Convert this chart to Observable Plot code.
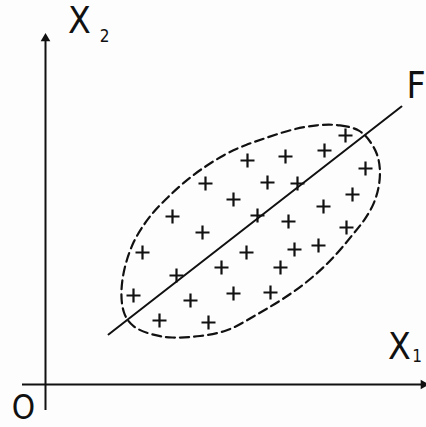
<!DOCTYPE html>
<html>
<head>
<meta charset="utf-8">
<script src="https://cdn.jsdelivr.net/npm/d3@7"></script>
<script src="https://cdn.jsdelivr.net/npm/@observablehq/plot@0.6"></script>
<style>
  html, body { margin: 0; padding: 0; background: #fdfdfd; }
  #chart svg { display: block; background: #fdfdfd; }
</style>
</head>
<body>
<div id="chart"></div>
<script>
// Observations in the (X1, X2) plane
const x1 = [30.0, 27.9, 24.0, 20.2, 32.0, 16.0, 22.2, 25.2, 30.7, 18.8,
            27.8, 12.7, 21.2, 24.3, 30.1, 15.7, 9.7, 20.1, 24.9, 27.3,
            17.6, 23.5, 13.1, 8.8, 14.5, 18.8, 22.5, 11.4, 16.3];
const x2 = [24.9, 23.4, 22.8, 22.4, 21.6, 20.1, 20.2, 20.1, 19.0, 18.5,
            17.8, 16.8, 16.9, 16.3, 15.7, 15.2, 13.2, 13.2, 13.5, 13.9,
            11.7, 11.7, 10.9, 8.9, 8.4, 9.1, 9.2, 6.4, 6.2];

// Direction of the factor F (two end points of the segment)
const factorX1 = [6.3, 35.6];
const factorX2 = [5.0, 27.8];

// Outline of the dashed concentration ellipse, traced clockwise from the top
const hullX1 = [27.2, 29.5, 31.5, 32.5, 33.2, 33.5, 33.4, 32.9, 31.9, 30.8,
                29.2, 27.2, 24.8, 22.2, 20.1, 18.2, 15.5, 12.5, 10.5, 8.7,
                7.7, 7.5, 7.9, 8.8, 9.9, 10.9, 12.2, 13.8, 15.5, 18.0,
                20.1, 21.9, 24.5];
const hullX2 = [26.0, 26.0, 25.5, 24.3, 23.1, 21.6, 19.9, 18.1, 16.4, 15.1,
                13.1, 11.1, 9.2, 7.6, 6.4, 5.3, 4.8, 4.6, 5.0, 5.7,
                7.1, 9.4, 11.9, 14.4, 16.1, 17.4, 18.7, 20.2, 21.5, 23.1,
                24.0, 24.6, 25.5];

// Axis extents
const axisX1 = [-2.3, 37.8];
const axisX2 = [-2.6, 34.6];

// Labels
const labelAxis = "X";
const labelSub1 = "1";
const labelSub2 = "2";
const labelFactor = "F";
const labelOrigin = "O";

const points = x1.map((v, i) => ({x1: v, x2: x2[i]}));
const factor = factorX1.map((v, i) => ({x1: v, x2: factorX2[i]}));
const hull = hullX1.map((v, i) => ({x1: v, x2: hullX2[i]}));

// Stroked plus sign whose half-arm equals the dot radius
const plusSign = {
  draw(ctx, size) {
    const r = Math.sqrt(size / Math.PI);
    ctx.moveTo(-r, 0); ctx.lineTo(r, 0);
    ctx.moveTo(0, -r); ctx.lineTo(0, r);
  }
};

const ink = "#111";
const font = "'Liberation Sans Narrow', 'DejaVu Sans Condensed', 'Liberation Sans', sans-serif";

const chart = Plot.plot({
  width: 426,
  height: 427,
  marginLeft: 45,
  marginRight: 1,
  marginTop: 0,
  marginBottom: 43,
  style: {background: "#fdfdfd", fontFamily: font},
  x: {domain: [0, 38], axis: null},
  y: {domain: [0, 38.4], axis: null},
  marks: [
    // coordinate axes
    Plot.ruleY([0], {x1: axisX1[0], x2: axisX1[1], stroke: ink, strokeWidth: 2}),
    Plot.ruleX([0], {y1: axisX2[0], y2: axisX2[1], stroke: ink, strokeWidth: 2}),
    Plot.dot([{x1: 0, x2: axisX2[1]}], {x: "x1", y: "x2", symbol: "triangle", r: 3.6, fill: ink, stroke: null}),
    Plot.dot([{x1: axisX1[1], x2: 0}], {x: "x1", y: "x2", symbol: "triangle", rotate: 90, r: 3.6, fill: ink, stroke: null}),
    // dashed ellipse, smoothed through the traced outline
    Plot.line(hull, {x: "x1", y: "x2", curve: "basis-closed", stroke: ink, strokeWidth: 2.2, strokeDasharray: "9,5"}),
    // factor line
    Plot.line(factor, {x: "x1", y: "x2", stroke: ink, strokeWidth: 2}),
    // observations
    Plot.dot(points, {x: "x1", y: "x2", symbol: plusSign, r: 7, fill: "none", stroke: ink, strokeWidth: 2.2}),
    // labels
    Plot.text([labelAxis], {x: 3.4, y: 36.3, text: d => d, fontSize: 37, fill: ink}),
    Plot.text([labelSub2], {x: 5.9, y: 34.8, text: d => d, fontSize: 17, fill: ink}),
    Plot.text([labelAxis], {x: 35.4, y: 3.75, text: d => d, fontSize: 37, fill: ink}),
    Plot.text([labelSub1], {x: 37.15, y: 2.75, text: d => d, fontSize: 17, fill: ink}),
    Plot.text([labelFactor], {x: 36.1, y: 29.8, text: d => d, textAnchor: "start", fontSize: 37, fill: ink}),
    Plot.text([labelOrigin], {x: -2.2, y: -2.4, text: d => d, fontSize: 33, fill: ink})
  ]
});

document.getElementById("chart").appendChild(chart);
</script>
</body>
</html>
